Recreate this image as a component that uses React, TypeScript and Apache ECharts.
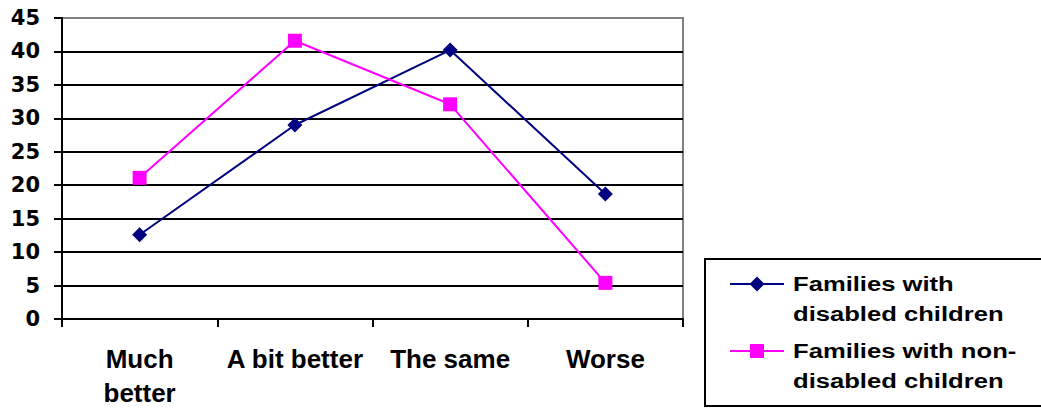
import React, { useEffect, useRef } from "react";
import * as echarts from "echarts";

const categories = ["Much better", "A bit better", "The same", "Worse"];
const disabledValues = [12.6, 29.0, 40.2, 18.7];
const nonDisabledValues = [21.1, 41.6, 32.1, 5.4];
const seriesNames = ["Families with disabled children", "Families with non-disabled children"];
const legendLines = [["Families with", "disabled children"], ["Families with non-", "disabled children"]];
const yTicks = { min: 0, max: 45, interval: 5 };

const FONT = "'Liberation Sans', Arial, sans-serif";
const NAVY = "#000080";
const MAGENTA = "#FF00FF";

export default function App() {
  const ref = useRef<HTMLDivElement>(null);
  useEffect(() => {
    if (!ref.current) return;
    const chart = echarts.init(ref.current, null, { renderer: "svg" });
    const splitColors = Array.from({ length: 10 }, (_, i) => (i === 9 ? "#808080" : "#000000"));
    const legendX = 705;
    const legendY = 259;
    const itemsY = [284, 351];
    const colors = [NAVY, MAGENTA];
    const graphics: any[] = [
      {
        type: "rect",
        shape: { x: legendX, y: legendY, width: 345, height: 147 },
        style: { fill: "#fff", stroke: "#000", lineWidth: 2 },
        z: 10,
      },
    ];
    itemsY.forEach((cy, i) => {
      graphics.push({
        type: "line",
        shape: { x1: 730, y1: cy, x2: 784, y2: cy },
        style: { stroke: colors[i], lineWidth: 2 },
        z: 11,
      });
      if (i === 0) {
        graphics.push({
          type: "polygon",
          shape: { points: [[757, cy - 7.5], [764.5, cy], [757, cy + 7.5], [749.5, cy]] },
          style: { fill: NAVY },
          z: 12,
        });
      } else {
        graphics.push({
          type: "rect",
          shape: { x: 750, y: cy - 7, width: 14, height: 14 },
          style: { fill: MAGENTA },
          z: 12,
        });
      }
      graphics.push({
        type: "text",
        x: 793,
        y: cy - 15,
        scaleX: 1.22,
        style: {
          text: legendLines[i].join("\n"),
          font: `bold 21px ${FONT}`,
          lineHeight: 30,
          fill: "#000",
          textVerticalAlign: "top",
        },
        z: 12,
      });
    });

    chart.setOption({
      animation: false,
      backgroundColor: "#fff",
      grid: {
        left: 62,
        right: 358,
        top: 18,
        bottom: 91,
        show: true,
        borderColor: "#808080",
        borderWidth: 2,
        backgroundColor: "transparent",
      },
      xAxis: {
        type: "category",
        data: categories,
        boundaryGap: true,
        axisLine: { lineStyle: { color: "#000", width: 2 } },
        axisTick: { show: true, length: 8, lineStyle: { color: "#000", width: 2 } },
        axisLabel: {
          margin: 23,
          fontFamily: FONT,
          fontWeight: "bold",
          fontSize: 26,
          lineHeight: 34,
          color: "#000",
          interval: 0,
          formatter: (v: string) => (v === "Much better" ? "Much\nbetter" : v),
        },
      },
      yAxis: {
        type: "value",
        min: yTicks.min,
        max: yTicks.max,
        interval: yTicks.interval,
        axisLine: { show: true, lineStyle: { color: "#000", width: 2 } },
        axisTick: { show: true, length: 8, lineStyle: { color: "#000", width: 2 } },
        axisLabel: {
          margin: 22,
          fontFamily: "'DejaVu Sans', sans-serif",
          fontWeight: "bold",
          fontSize: 21,
          color: "#000",
        },
        splitLine: { show: true, lineStyle: { color: splitColors, width: 2 } },
      },
      series: [
        {
          name: seriesNames[0],
          type: "line",
          data: disabledValues,
          symbol: "diamond",
          symbolSize: 15,
          lineStyle: { color: NAVY, width: 2 },
          itemStyle: { color: NAVY },
          z: 3,
        },
        {
          name: seriesNames[1],
          type: "line",
          data: nonDisabledValues,
          symbol: "rect",
          symbolSize: 14,
          lineStyle: { color: MAGENTA, width: 2 },
          itemStyle: { color: MAGENTA },
          z: 4,
        },
      ],
      graphic: graphics,
    });
    return () => chart.dispose();
  }, []);
  return <div ref={ref} style={{ width: 1041, height: 410, position: "absolute", left: 0, top: 0 }} />;
}
